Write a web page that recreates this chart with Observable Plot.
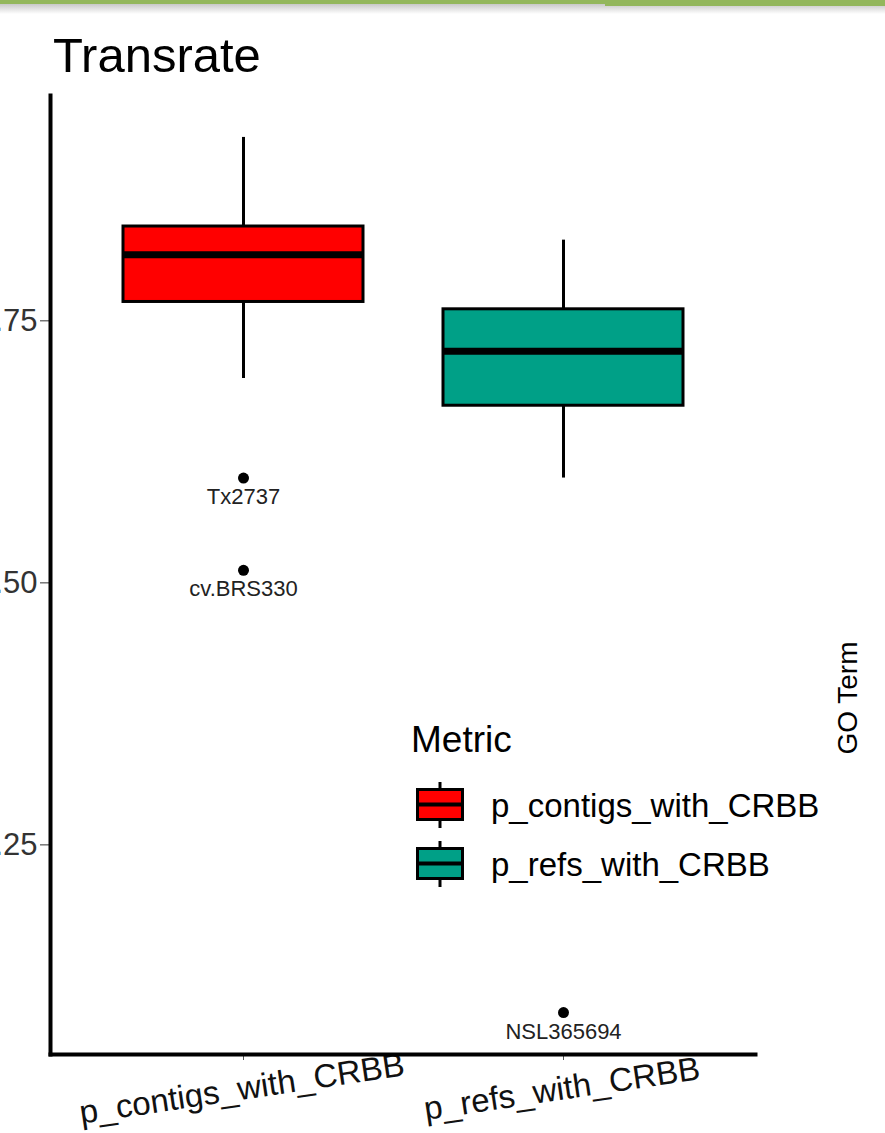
<!DOCTYPE html>
<html><head><meta charset="utf-8">
<script src="https://cdn.jsdelivr.net/npm/d3@7"></script>
<script src="https://cdn.jsdelivr.net/npm/@observablehq/plot@0.6"></script>
<style>
body{margin:0;background:#fff;font-family:"Liberation Sans",Arial,sans-serif;}
#wrap{position:relative;width:885px;height:1133px;overflow:hidden;background:#fff;}
#wrap svg{position:absolute;left:0;top:0;}
.ov{position:absolute;line-height:1;white-space:nowrap;color:#000;}
#barL{position:absolute;left:0;top:0;width:605px;height:4px;background:#93B75C;}
#barR{position:absolute;left:605px;top:0;width:280px;height:6px;background:#93B75C;}
#shadow{position:absolute;left:0;top:4px;width:885px;height:10px;background:linear-gradient(#c8c8c8,#ffffff);}
</style></head>
<body><div id="wrap"><div id="shadow"></div><div id="barL"></div><div id="barR"></div></div>
<script>
// ---- data ----
const metrics = ["p_contigs_with_CRBB", "p_refs_with_CRBB"];
const colors = ["#FF0000", "#00A087"];
const whiskerLow = [0.695, 0.600];
const q1 = [0.768, 0.669];
const median = [0.813, 0.721];
const q3 = [0.840, 0.761];
const whiskerHigh = [0.925, 0.827];
const outlierMetric = ["p_contigs_with_CRBB", "p_contigs_with_CRBB", "p_refs_with_CRBB"];
const outlierName = ["Tx2737", "cv.BRS330", "NSL365694"];
const outlierValue = [0.600, 0.512, 0.090];
const yTicks = [0.25, 0.50, 0.75];
const titleText = "Transrate";
const legendTitle = "Metric";
const rightLabel = "GO Term";

const stats = metrics.map((m, i) => ({metric: m, lo: whiskerLow[i], q1: q1[i], med: median[i], q3: q3[i], hi: whiskerHigh[i]}));
const outliers = outlierName.map((n, i) => ({metric: outlierMetric[i], name: n, value: outlierValue[i]}));

const FONT = '"Liberation Sans", Arial, sans-serif';
const chart = Plot.plot({
  width: 885, height: 1133,
  marginLeft: 50, marginRight: 130, marginTop: 95, marginBottom: 79,
  style: {fontFamily: FONT, background: "transparent"},
  x: {domain: metrics, paddingInner: 0.25, paddingOuter: 0.2256, align: 0.5},
  y: {domain: [0.05, 0.965]},
  color: {domain: metrics, range: colors},
  marks: [
    Plot.axisY({ticks: yTicks, tickFormat: d3.format(".2f"), tickSize: 10, tickPadding: 3, fontSize: 31, color: "#333", label: null}),
    Plot.axisX({tickSize: 6, tickFormat: () => "", color: "#555", label: null}),
    Plot.ruleX(stats, {x: "metric", y1: "q3", y2: "hi", stroke: "black", strokeWidth: 3}),
    Plot.ruleX(stats, {x: "metric", y1: "lo", y2: "q1", stroke: "black", strokeWidth: 3}),
    Plot.barY(stats, {x: "metric", y1: "q1", y2: "q3", fill: "metric", stroke: "black", strokeWidth: 3}),
    Plot.tickY(stats, {x: "metric", y: "med", stroke: "black", strokeWidth: 7}),
    Plot.dot(outliers, {x: "metric", y: "value", r: 5.5, fill: "black", stroke: null}),
    Plot.text(outliers, {x: "metric", y: "value", text: "name", dy: 19, fontSize: 22, fill: "#222"}),
    Plot.text(metrics, {x: d => d, text: d => d, frameAnchor: "bottom", dy: 45, rotate: -8.5, fontSize: 33, fill: "#111"}),
    Plot.frame({anchor: "left", stroke: "black", strokeWidth: 4}),
    Plot.frame({anchor: "bottom", stroke: "black", strokeWidth: 4})
  ]
});
const wrap = document.getElementById("wrap");
wrap.appendChild(chart);

function ov(text, left, top, size, extra) {
  const d = document.createElement("div");
  d.className = "ov";
  d.textContent = text;
  d.style.left = left + "px";
  d.style.top = top + "px";
  d.style.fontSize = size + "px";
  if (extra) Object.assign(d.style, extra);
  wrap.appendChild(d);
  return d;
}
// title
ov(titleText, 53, 30.5, 49);
// legend
ov(legendTitle, 411, 720.5, 37);
const keyTops = [782, 841];
const labelTops = [789, 848];
metrics.forEach((m, i) => {
  const ns = "http://www.w3.org/2000/svg";
  const s = document.createElementNS(ns, "svg");
  s.setAttribute("width", 50); s.setAttribute("height", 48);
  s.style.position = "absolute"; s.style.left = "415px"; s.style.top = keyTops[i] + "px";
  s.innerHTML = `<line x1="25" x2="25" y1="0" y2="46" stroke="black" stroke-width="3"/>
    <rect x="2.5" y="7.5" width="45" height="30" fill="${colors[i]}" stroke="black" stroke-width="3"/>
    <line x1="2.5" x2="47.5" y1="22.5" y2="22.5" stroke="black" stroke-width="4"/>`;
  wrap.appendChild(s);
  ov(m, 491, labelTops[i], 33);
});
// right side label
ov(rightLabel, 848, 698, 28, {transform: "translate(-50%,-50%) rotate(-90deg)"});
</script>
</body></html>
